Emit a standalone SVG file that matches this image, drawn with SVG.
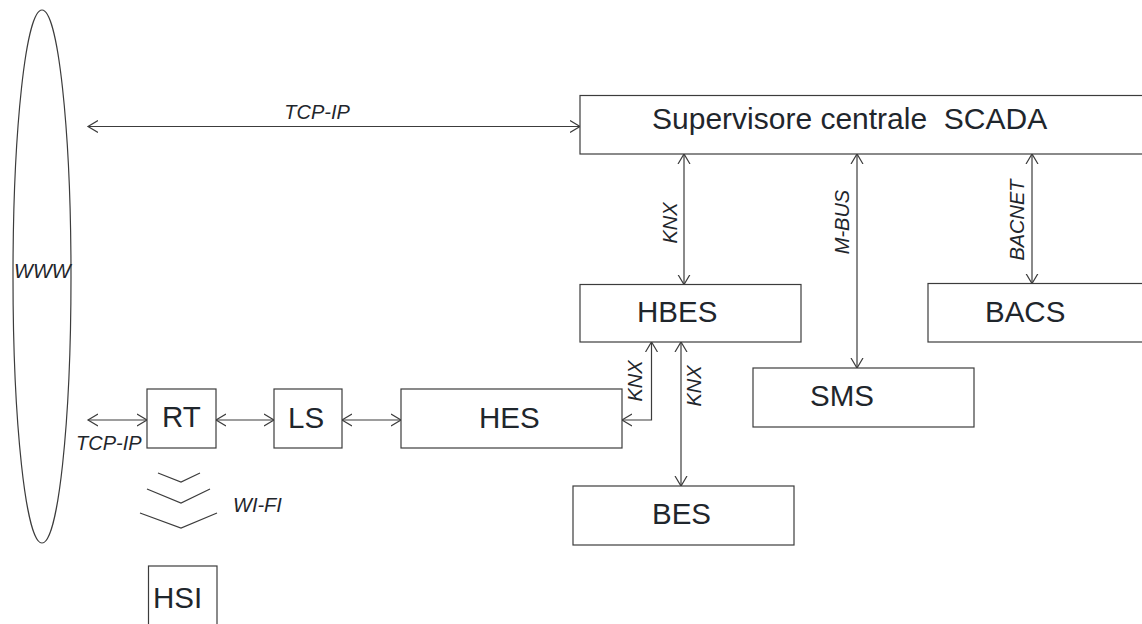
<svg xmlns="http://www.w3.org/2000/svg" width="1142" height="624" viewBox="0 0 1142 624">
  <style>
    .box { fill: #ffffff; stroke: #3c3c3c; stroke-width: 1.2; }
    .lbl { font-family: "Liberation Sans", Arial, sans-serif; font-size: 29.5px; fill: #1f262c; }
    .proto { font-family: "Liberation Sans", Arial, sans-serif; font-size: 20px; font-style: italic; fill: #1f262c; }
    .link { fill: none; stroke: #3c3c3c; stroke-width: 1.2; marker-start: url(#arr); marker-end: url(#arr); }
    .wave { fill: none; stroke: #3c3c3c; stroke-width: 1.2; }
  </style>
  <defs>
    <marker id="arr" viewBox="0 -7 12 14" refX="10" refY="0" markerWidth="12" markerHeight="14" orient="auto-start-reverse" markerUnits="userSpaceOnUse">
      <path d="M0,-6 L10,0 L0,6" fill="none" stroke="#3c3c3c" stroke-width="1.2"/>
    </marker>
  </defs>
  <rect width="1142" height="624" fill="#ffffff"/>

  <!-- Internet cloud -->
  <g id="www">
    <ellipse cx="42" cy="276.5" rx="29" ry="266.5" fill="none" stroke="#3c3c3c" stroke-width="1.2"/>
    <text class="proto" x="14" y="278">WWW</text>
  </g>

  <!-- connectors -->
  <g id="connectors">
    <path class="link" d="M88 126.5 H580"/>
    <path class="link" d="M88 420 H147"/>
    <path class="link" d="M216 420 H274"/>
    <path class="link" d="M342 420 H401"/>
    <path class="link" d="M622 420 H651.5 V342"/>
    <path class="link" d="M684 154 V284.5"/>
    <path class="link" d="M681 342 V486"/>
    <path class="link" d="M857 154 V368"/>
    <path class="link" d="M1032 154 V283.5"/>
    <!-- radio link symbol -->
    <polyline class="wave" points="158,473 181,482 200,473"/>
    <polyline class="wave" points="147,489 181,503 210,489"/>
    <polyline class="wave" points="140,513 181,528 217,513"/>
  </g>

  <!-- protocol labels -->
  <g id="link-labels">
    <text class="proto" x="317" y="119" text-anchor="middle">TCP-IP</text>
    <text class="proto" x="76" y="450">TCP-IP</text>
    <text class="proto" x="233" y="512">WI-FI</text>
    <text class="proto" x="677" y="223" text-anchor="middle" transform="rotate(-90 677 223)">KNX</text>
    <text class="proto" x="849" y="222" text-anchor="middle" transform="rotate(-90 849 222)">M-BUS</text>
    <text class="proto" x="1024" y="220" text-anchor="middle" transform="rotate(-90 1024 220)">BACNET</text>
    <text class="proto" x="642" y="381" text-anchor="middle" transform="rotate(-90 642 381)">KNX</text>
    <text class="proto" x="701" y="386" text-anchor="middle" transform="rotate(-90 701 386)">KNX</text>
  </g>

  <g id="scada">
    <rect class="box" x="580" y="95.5" width="600" height="58.5"/>
    <text class="lbl" x="652" y="129" style="font-size:30px" xml:space="preserve">Supervisore centrale  SCADA</text>
  </g>
  <g id="hbes">
    <rect class="box" x="580" y="284.5" width="221" height="57.5"/>
    <text class="lbl" x="637" y="322">HBES</text>
  </g>
  <g id="bacs">
    <rect class="box" x="928" y="283.5" width="230" height="58.5"/>
    <text class="lbl" x="985" y="322">BACS</text>
  </g>
  <g id="sms">
    <rect class="box" x="753" y="368" width="221" height="59"/>
    <text class="lbl" x="810" y="406">SMS</text>
  </g>
  <g id="hes">
    <rect class="box" x="401" y="389" width="221" height="59"/>
    <text class="lbl" x="479" y="428">HES</text>
  </g>
  <g id="bes">
    <rect class="box" x="573" y="486" width="221" height="59"/>
    <text class="lbl" x="652" y="524">BES</text>
  </g>
  <g id="rt">
    <rect class="box" x="147" y="389" width="69" height="59"/>
    <text class="lbl" x="162" y="427">RT</text>
  </g>
  <g id="ls">
    <rect class="box" x="274" y="389" width="68" height="59"/>
    <text class="lbl" x="288" y="428">LS</text>
  </g>
  <g id="hsi">
    <rect class="box" x="148.5" y="566" width="68.5" height="70"/>
    <text class="lbl" x="153" y="608">HSI</text>
  </g>
</svg>
